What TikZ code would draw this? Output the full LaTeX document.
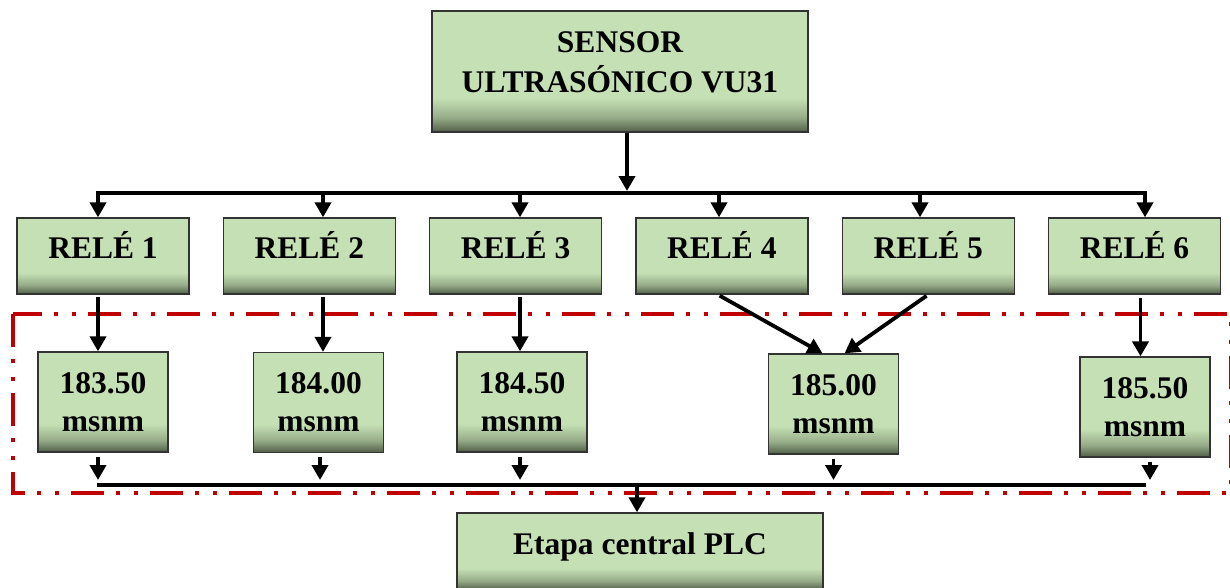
\documentclass[tikz,border=0pt]{standalone}
\usepackage{fontspec}
\setmainfont{Liberation Serif}
\usetikzlibrary{arrows.meta, positioning, calc}

\definecolor{verdecaja}{RGB}{197,224,180}
\definecolor{verdemed}{RGB}{150,172,136}
\definecolor{verdeosc}{RGB}{80,94,70}
\definecolor{rojozona}{RGB}{192,0,0}
\pgfdeclareverticalshading{bisel}{100bp}{color(0bp)=(verdeosc); color(25bp)=(verdeosc); color(31bp)=(verdemed); color(39bp)=(verdecaja); color(100bp)=(verdecaja)}

\begin{document}
\begin{tikzpicture}[
		x=1pt, y=-1pt,
		% Caja verde con el borde inferior sombreado
		caja/.style = {draw=black!80, line width=1.3pt, rectangle, shade, shading=bisel, inner sep=0pt, align=center, font=\fontsize{31.5}{40}\selectfont\bfseries},
		rele/.style = {caja, minimum width=172pt, minimum height=76pt, text height=21pt, text depth=16pt},
		valor/.style = {caja, minimum width=130pt, minimum height=100pt, font=\fontsize{31.5}{38}\selectfont\bfseries},
		% Zona de niveles (linea roja raya-punto-punto)
		zona/.style = {draw=rojozona, line width=4pt, dash pattern=on 33pt off 12pt on 4pt off 14pt on 4pt off 12pt},
		linea/.style = {line width=3.8pt},
		node distance=33pt,
		>={Triangle[length=15pt, width=16pt]}
		]
		
		\useasboundingbox (0,0) rectangle (1230,587);
		
		% --- ZONA DE NIVELES ---
		\draw [zona] (13,314) rectangle (1231,493);
		
		% --- PARTE SUPERIOR: Sensor y reles ---
		\node [caja, minimum width=376pt, minimum height=121pt] (sensor) at (620,71.5) {SENSOR\\ULTRASÓNICO VU31\rule[-18pt]{0pt}{18pt}};
		
		\node [rele] (r1) at (103,256) {RELÉ 1};
		\node [rele, right=of r1] (r2) {RELÉ 2};
		\node [rele, right=of r2] (r3) {RELÉ 3};
		\node [rele, right=of r3] (r4) {RELÉ 4};
		\node [rele, right=of r4] (r5) {RELÉ 5};
		\node [rele, right=of r5] (r6) {RELÉ 6};
		
		\foreach \i/\x in {1/98, 2/323, 3/520, 4/719, 5/920, 6/1145} {
			\coordinate (s\i) at (\x,193);
			\draw [->, linea] (s\i) -- (s\i |- r\i.north);
		}
		\draw [linea] ([xshift=-1.9pt]s1) -- ([xshift=1.9pt]s6);
		\draw [->, linea, shorten >=2pt] ([xshift=7pt]sensor.south) -- ([xshift=7pt]sensor.south |- s1);
		
		% --- NIVELES (msnm) ---
		\node [valor] (v1) at (103,402) {183.50\\msnm};
		\node [valor] (v2) at (318.5,402.5) {184.00\\msnm};
		\node [valor] (v3) at (522,402) {184.50\\msnm};
		\node [valor] (v4) at (833.5,404) {185.00\\msnm};
		\node [valor] (v5) at (1145,407) {185.50\\msnm};
		
		\draw [->, linea, shorten <=2pt] (s1 |- r1.south) -- (s1 |- v1.north);
		\draw [->, linea, shorten <=2pt] (s2 |- r2.south) -- (s2 |- v2.north);
		\draw [->, linea, shorten <=2pt] (s3 |- r3.south) -- (s3 |- v3.north);
		\draw [->, linea, shorten <=2pt] ([xshift=-4pt]r4.south) -- ([xshift=-11pt]v4.north);
		\draw [->, linea, shorten <=2pt] (r5.south) -- ([xshift=11pt]v4.north);
		\draw [->, linea, shorten <=3pt] ([xshift=6pt]r6.south) -- ([xshift=6pt]r6.south |- v5.north);
		
		% --- PARTE INFERIOR: Etapa central ---
		\coordinate (b1) at (97,485);
		\coordinate (b2) at (1146,485);
		\draw [linea] (b1) -- (b2);
		
		\foreach \v/\dx in {v1/-5, v2/1.5, v3/-2, v4/0, v5/5}
			\draw [->, linea, shorten <=4pt, shorten >=5pt] ([xshift=\dx pt]\v.south) -- ([xshift=\dx pt]\v.south |- b1);
		
		\node [rele, minimum width=366pt, minimum height=77pt] (plc) at (640,551.5) {Etapa central PLC};
		\draw [->, linea] ([xshift=-3pt]plc.north |- b1) -- ([xshift=-3pt]plc.north);
		
	\end{tikzpicture}
\end{document}
